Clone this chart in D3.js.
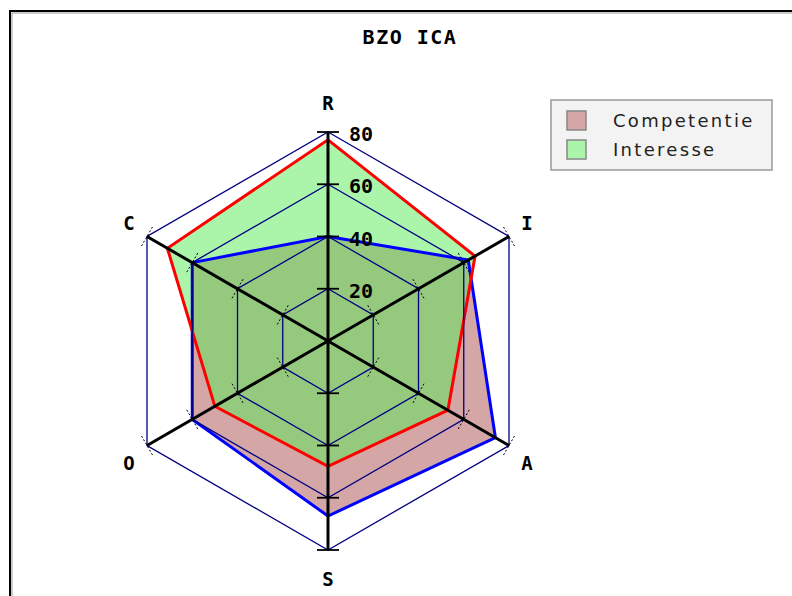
<!DOCTYPE html>
<html>
<head>
<meta charset="utf-8">
<script src="https://cdn.jsdelivr.net/npm/d3@7"></script>
<style>
  body { margin: 0; background: #fff; }
  svg { display: block; }
</style>
</head>
<body>
<div id="chart"></div>
<script>
(function() {
    var width = 792,
        height = 596;

    // data
    var axes = ["R", "I", "A", "S", "O", "C"];
    var ticks = [20, 40, 60, 80];
    var competentie = [40, 62, 74, 67, 60, 60];
    var interesse = [77, 65, 53, 48, 50, 71];
    var seriesNames = ["Competentie", "Interesse"];

    var cx = 328, cy = 341;

    var svg = d3.select("#chart")
        .append("svg")
        .attr("width", width)
        .attr("height", height);

    // frame
    svg.append("rect")
        .attr("x", 10).attr("y", 11)
        .attr("width", 820).attr("height", 620)
        .attr("fill", "none")
        .attr("stroke", "#000")
        .attr("stroke-width", 2);
    svg.append("rect")
        .attr("x", 12).attr("y", 13)
        .attr("width", 820).attr("height", 620)
        .attr("fill", "none")
        .attr("stroke", "#999")
        .attr("stroke-width", 1);

    svg.append("text")
        .attr("x", 410).attr("y", 44)
        .attr("text-anchor", "middle")
        .attr("font-family", "DejaVu Sans Mono")
        .attr("font-weight", "bold")
        .attr("font-size", 20)
        .attr("letter-spacing", 1.5)
        .text("BZO ICA");

    var r = d3.scaleLinear().domain([0, 80]).range([0, 209]);
    var angle = d3.scalePoint().domain(axes).range([0, 300]);

    function pt(axis, v) {
        var a = (angle(axis) - 90) * Math.PI / 180;
        return [cx + r(v) * Math.cos(a), cy + r(v) * Math.sin(a)];
    }

    var line = d3.line();

    var g = svg.append("g");

    // series fills and outlines
    var series = [
        {name: seriesNames[0], values: competentie, fill: "rgb(169,77,77)", stroke: "#0000ff"},
        {name: seriesNames[1], values: interesse, fill: "rgb(85,235,85)", stroke: "#ff0000"}
    ];

    series.forEach(function(s) {
        var pts = axes.map(function(a, i) { return pt(a, s.values[i]); });
        g.append("path")
            .attr("d", line(pts) + "Z")
            .attr("fill", s.fill)
            .attr("fill-opacity", 0.5)
            .attr("stroke", "none");
    });
    series.forEach(function(s) {
        var pts = axes.map(function(a, i) { return pt(a, s.values[i]); });
        g.append("path")
            .attr("d", line(pts) + "Z")
            .attr("fill", "none")
            .attr("stroke", s.stroke)
            .attr("stroke-width", 3)
            .attr("stroke-linejoin", "miter");
    });

    // rings
    ticks.forEach(function(t) {
        var pts = axes.map(function(a) { return pt(a, t); });
        g.append("path")
            .attr("d", line(pts) + "Z")
            .attr("fill", "none")
            .attr("stroke", "#000080")
            .attr("stroke-width", 1.3);
    });

    // spokes
    axes.forEach(function(a) {
        var p = pt(a, 80);
        g.append("line")
            .attr("x1", cx).attr("y1", cy)
            .attr("x2", p[0]).attr("y2", p[1])
            .attr("stroke", "#000")
            .attr("stroke-width", 3);
        var ang = (angle(a) - 90) * Math.PI / 180;
        var px = -Math.sin(ang), py = Math.cos(ang);
        var vertical = Math.abs(px) > 0.99;
        ticks.forEach(function(t) {
            var q = pt(a, t);
            g.append("line")
                .attr("x1", q[0] - px * 11).attr("y1", q[1] - py * 11)
                .attr("x2", q[0] + px * 11).attr("y2", q[1] + py * 11)
                .attr("stroke", "#000")
                .attr("stroke-width", vertical ? 1.8 : 1)
                .attr("stroke-dasharray", vertical ? null : "2,2");
        });
    });

    // axis labels
    axes.forEach(function(a, i) {
        var p = pt(a, 80);
        var dx = 0, dy = 0;
        if (i === 0) dy = -29;
        else if (i === 3) dy = 29;
        else {
            dx = (i < 3) ? 18 : -18;
            dy = (i === 1 || i === 5) ? -13 : 18;
        }
        svg.append("text")
            .attr("x", p[0] + dx).attr("y", p[1] + dy)
            .attr("dy", "0.36em")
            .attr("text-anchor", "middle")
            .attr("font-family", "DejaVu Sans Mono")
            .attr("font-weight", "bold")
            .attr("font-size", 19)
            .text(a);
    });

    // tick labels
    ticks.forEach(function(t) {
        var p = pt("R", t);
        svg.append("text")
            .attr("x", p[0] + 21).attr("y", p[1])
            .attr("dy", "0.45em")
            .attr("font-family", "DejaVu Sans Mono")
            .attr("font-weight", "bold")
            .attr("font-size", 20)
            .text(t);
    });

    // legend
    var lg = svg.append("g").attr("transform", "translate(551,100)");
    lg.append("rect")
        .attr("width", 221).attr("height", 70)
        .attr("fill", "#f3f3f3")
        .attr("stroke", "#999")
        .attr("stroke-width", 1.5);
    var swatch = ["rgb(212,166,166)", "rgb(170,245,170)"];
    seriesNames.forEach(function(n, i) {
        lg.append("rect")
            .attr("x", 16).attr("y", 11 + i * 29)
            .attr("width", 19).attr("height", 19)
            .attr("fill", swatch[i])
            .attr("stroke", "#888")
            .attr("stroke-width", 1.5);
        lg.append("text")
            .attr("x", 62).attr("y", 21 + i * 29)
            .attr("dy", "0.36em")
            .attr("font-family", "DejaVu Sans")
            .attr("font-size", 18)
            .attr("letter-spacing", 2.3)
            .attr("fill", "#222")
            .text(n);
    });
})();
</script>
</body>
</html>
